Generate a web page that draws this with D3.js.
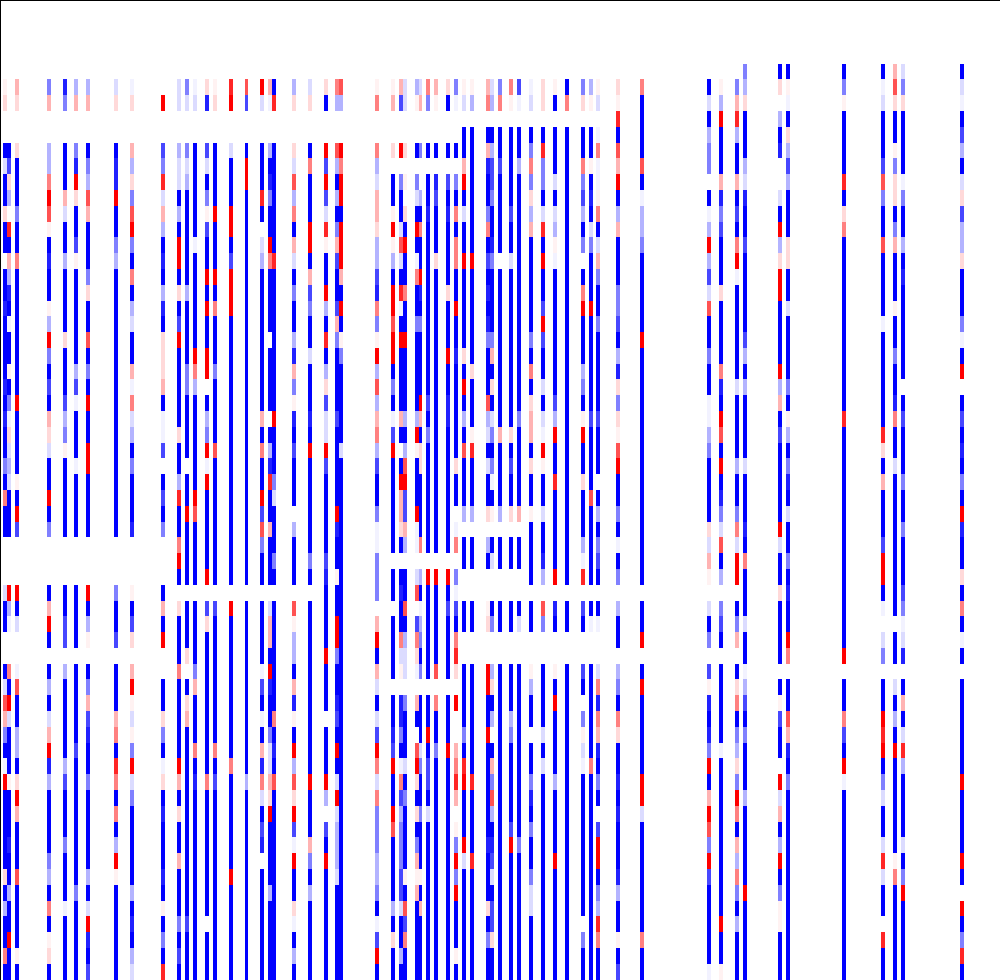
<!DOCTYPE html>
<html><head><meta charset="utf-8">
<script src="https://cdn.jsdelivr.net/npm/d3@7/dist/d3.min.js"></script>
<style>html,body{margin:0;padding:0;background:#fff;overflow:hidden}svg{display:block}</style>
</head><body><div id="chart"></div>
<script>
// Heatmap: one entry per populated column, rows 4..61.
const levelCodes  = ["A","B","C","D","E","F","G","l","m","n","o","p","q","r"];
const levelValues = [-1,-0.87,-0.72,-0.5,-0.3,-0.14,-0.05,0.05,0.15,0.3,0.5,0.68,0.85,1];
const columnKeys = [0,1,3,11,15,18,21,28,32,40,44,46,48,51,53,57,61,65,67,68,73,77,81,84,85,94,98,100,101,104,105,107,109,112,114,116,118,122,123,125,128,130,133,136,139,142,146,148,150,155,161,178,181,185,187,196,198,212,222,225,227,242];
const columnCells = [
".lm.. AFAAm AA.AA BAAAA BABAA DAoAA ...FA A..AF pnDAG rAAAA AmAEA AoA",
"..... ACmE. qAnEB AGAAl ADGmF EFAAA ...rE G..oA rFAAA lAAAB AAEAA rAA",
".nm.. mAAAD AAoAA AAAAA ArAAA AlArC ...rA F..Gp AAEEA mrnAA ApAAA AlA",
".Dn.. EEorp lABAA lErDA CAnmF AArAD ...An rA.AE AFnrB EAAAA DEAoA lmA",
".BD.. AAAnF AAEAA AAmAA ACEDl AAAAA ...AA CC.EA AAAAE CAAAD AAAGA AAA",
".En.. DBrmA AClAA AAAAE CGAAA GAAAA ...AA AA.AA AAACA AAAAA AADAA AAA",
".En.. ADEpn AAADm AApAD ArAAr rAAAA ...rA El.AD nCBAA DAAAA AEAFr BAC",
".Fm.. ABBrA ADEAA AAAAA AAAAA AAAAA ...DA AC.AA AnoAq oAoAE rlAAA AAA",
".Gm.. nEmDp rDAoA EFAAn GoFEA DAAAB ...lA Cm.nr lFlDr FDAAA AAEAB AEF",
"..r.. CDqFn EABAE BAmmm nAGGC .ACAD ...An Ar..A AmDAG mABAA ABAlA DAq",
".FF.. EFFAE ArrAm ACrAA AAAmA AEqAA orA.m AAAoA AAAAr nAmAA nAAAD ACA",
".DF.. DFEAA AAAAE AAAAD DAAAA .AArA AAA.A AAm.A mnAAA AAAAA AAAAC AAA",
".GF.. AAAAA AGAAA AAAro EAAAA AArpA AAA.A AAADn AAAoA BAAAA AAAAA AAA",
".mB.. CFADl CAArA rAArr .AEDr GrAAA AAr.C mAAAA AAAAA oAAAA AAAA. AAA",
".lm.. AAAAr AAArA oAAAD AAAAp AAAAA AAA.C AAAAA AAAoA CAAAA AAAAA AAA",
".qr.. FAAAr rACrr rAAAA AAAAA AAAAA AAA.r AAAAA AAAAo AAAAA ArAAA AAA",
".pC.. ArrAA AAAAA AAAAA AAAAA AAAAA AAA.A AAAAA AAAAA EAAAA AAAAA AAA",
".rF.. AAAqA .FEAA AAAAA AAnAo AArCp DAA.A AAAGC AGAnB oFACB .AAAA AAA",
".nG.. EABDA AroAA AA.AA AA.AE BqAAn AAA.F nnArB AADFF nmrAA AAEAA AAA",
".Aq.. AAAAA AAqAA AAAAA AArAA ADFAA ADA.A AAAAA AoABA pAAAA AAAAA AAA",
".Em.. mFpEo AnFAD AAEBn DlBAC AAA.E AAA.p lEEAn BlArE pmrCG rAAmG AEA",
".Fm.. AoAAA rrAnC DAAFA AABAr AAAAA ADA.A AAAAA AAAAA rAAAn DAEAA AAA",
".mA.. rCrCF qlAAr EAqAE mCFFr CAAAA ACBAA AArAA A.AAA rE.CA rAAAA AAA",
".oE.. pEAEA DnCAA CnDAA AACAA AAArB AAlAA rrDAA BCArA FrFEE EFAAA AAA",
".pE.. rorrA rrrnA rAlDA AAAAF AAAAA AAAAA AAAAA AAAAA AAAAA AAAAA AAA",
".lo.. oEFnn mEECB oDlrE pEnoE CAADG GDDD. nrAnF AFCro FoDDD EEDAG CrA",
".ln.. m.AAl rlEAr rprrA DAGCr AAAAA A.AA. AAAA. AABCr AArpA AAAEA mAA",
".nC.. r.DAA FpFAq GArAA AAnA. Arnnm A.ABA AoFl. BBDAG oCEDD DCCFA AEA",
".FF.. m.l.m ArAAo AArAA AAEAE prCCn E.AAp AEFF. DAAAF ADAAA AlApC oAA",
".El.. A.DFA rAGoA ADAAA AAErl AAArG G.Fp. ComG. nA.pr mAmAD nlnAA AAA",
".Fn.. D..EA oAArB ADAAA ArnAm mAAAA o.EAG EDAD. AAAFD AADAA AlAnA AAA",
".oD.. A.AAB AAAAA AAAAA ACADA AAAAA A.rAA AAAA. AArAC CAFAA AAAAA AAA",
".nl.. A.BCA AAmAA AAAAA AAAAA AAAAA A.rAA AAAp. oAADA AAAAA AAAAA AAA",
".mA.. A.CAB AAAAm AAArA ABBAA AAAAA A.rAC AAAA. AAArA AAAAA AAAAA AAA",
".DG.. A.DAo AooAA rAABA AAAAA mAA.G o.DGC Aoqm. r..no qn.lD rDrAA AlA",
".lF.A AnrAF AArAA AAAmA rAEAp AAAE. AA..A A..AA AADAq rAAAr FAAAA AAA",
".lE.A AAAAA AArAA AAAAm AAAlq AAAE. AA..A A..AA AAAAA qAAAA qAAAA AAA",
".no.A nBAAD oACAB ABDAA ApEFA FAAm. EA..l m..rr AArAA AAAAB AAAmA DAA",
".FE.A ECCDA ABDAA AADnA mAFDA DGAl. AF..A D..Em AE.An DpEAB CFACC mAA",
".Do.A ACAAA AA.AA AAAAA AAAnA AAAE. AA..A A..AA AAAAA AAAAA AAAAA AAA",
".ol.A AAAAC AAFAA AAAAA AAAmA CAAm. AA..A A..AA AEDAA AAACr AAAAA AAA",
".CG.A AEAAA AAAAA AAAAA AADAA AAAn. AA..A F..AA AAAAA AAAAD AAAAA AAA",
".GF.A DoDmE nAAAA AADAo AmnnA mAAlA AAA.A A..lE AA.AA DBADA ADFFA AAA",
".mm.A qDDAF qArAA CrCAA FAFGr lAAFA ABE.p D..AA AAFAF AAAAA AAAAA AAA",
".lA.A AAFAF ElGAA AAAAA ACErA AqAAA AAr.B A..lA rAAAA EAAAA rAAAA AAA",
".Ao.A AAAAA AAAAA AAAAA AAAAA AAAAA AAA.A A..AA AAAAA AAAAA AAAAA AAA",
".Dm.A AoDCE AD.Ao rAAAE DAlrA AmAAA EGq.C A..CA .DlFG AAAAA AAAA. DAA",
".El.A AlABA FDAAA rAAAA AACAA AApAA AAA.A G..AA AAAAo AAAAA AAAAA AAA",
".lF.G oGGlo AFnDA ADAAA AACAA A.AEA DCA.A G..Fo BonBA DA.Cr rADEq oAA",
".mlqA pnrAE nAAAD DCAEB mDmlp rAADA GAD.E AA.ED AomAA BABAA ABEAA lAC",
".oAAA ApAGE EDAAA AArAA AAAAA AAAAA AAA.A Ar.Ar AAAAA rrFAA AAAAA oAA",
".AFAE DD.AG ErECF pAADA AGGED AAAAm Fnl.F AD.Cl BABDr AnrpD rCAAA AAG",
".lErA AAnBD CAAAm AAAAo BArpA rABDF pAE.D CA.AA AAAGA AAAAA AAAAr AAl",
".DnqE AAnAC AorGA AAAAA FAAAA EAADo Frr.A Dn.Am oADEm DroAn EoDAE AAA",
"DEmAA AEFBA ACAAA AACEA EAAAA FAAAB AoAAA FAAGE CADAA AEAAA AArAA AAA",
"Am.EA B..FA rEmrr AAAAr EnACA AAAAr FAAmA AAA.A lCAA. rFnAE rADll AAA",
"AlGAm ECEAA AmmAA FAAAA DAlEA DBAFA ADABA Aro.A ApnBA DAAAA AAAAA AAA",
"ADlAA AAqAm oAAAA AAAAA AAqAA AAAAA AAAAA AAr.A AoCAr GAAAA AAAAA AAA",
"AGFAA ACpDA ApAAA AGAAA AAAqm AnAAA CrrAG .FD.A ArqrA DFAAF qFAA. qAA",
"npmAA lDmmA DnAAA lAADA ABoAA FAAAA AAAAA .AA.F AEArA AAAAA loAAA AAA",
"FDmAA AAGDA AEABA AAAAA .ACAA ADAAD AAACD GFB.A nAFqE AAAAF ADrAA AAA",
"AFGAC EAFmC EEmAA ADGAr .ACAB ADArB AAmAo AGA.A AAAAA rAAAA rA.rA DqA"
];
const firstRow = 4, rowCount = 62, columnSpan = 243;

const W = 1000, H = 980;
const x = d3.scaleLinear().domain([0, columnSpan]).range([3.3, 3.3 + columnSpan * 3.9545]);
const y = d3.scaleLinear().domain([0, rowCount]).range([1, H]);
const color = d3.scaleLinear().domain([-1, 0, 1]).range(["#0000ff", "#ffffff", "#ff0000"]);
const levelOf = new Map(levelCodes.map((c, i) => [c, levelValues[i]]));

const cells = columnCells.flatMap((s, i) => Array.from(s.replace(/ /g, ""), (c, j) => ({
  col: columnKeys[i], row: firstRow + j, value: levelOf.get(c)
}))).filter(d => d.value !== undefined);

const svg = d3.select("#chart").append("svg").attr("width", W).attr("height", H);
svg.append("g").attr("shape-rendering", "crispEdges").selectAll("rect").data(cells).join("rect")
  .attr("x", d => Math.round(x(d.col)))
  .attr("y", d => Math.floor(y(d.row)))
  .attr("width", d => Math.round(x(d.col + 1)) - Math.round(x(d.col)))
  .attr("height", d => Math.floor(y(d.row + 1)) - Math.floor(y(d.row)))
  .attr("fill", d => color(d.value));
const frame = svg.append("g").attr("shape-rendering", "crispEdges").attr("stroke", "#000").attr("stroke-width", 1);
frame.append("line").attr("x1", 0).attr("x2", W).attr("y1", 0.5).attr("y2", 0.5);
frame.append("line").attr("x1", 0.5).attr("x2", 0.5).attr("y1", 0).attr("y2", H);
</script></body></html>
